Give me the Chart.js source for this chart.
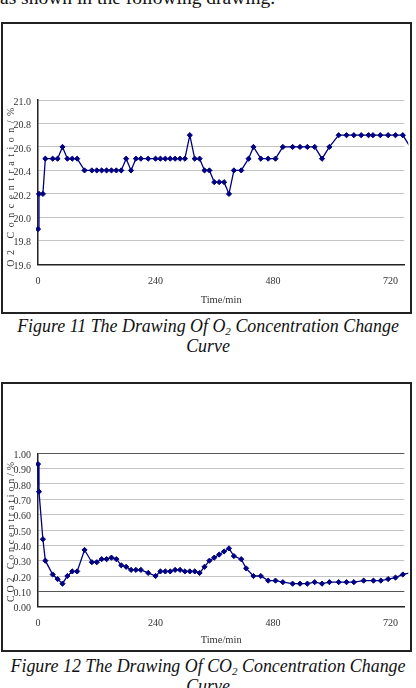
<!DOCTYPE html>
<html>
<head>
<meta charset="utf-8">
<script src="https://cdn.jsdelivr.net/npm/chart.js@4"></script>
<style>
  html, body { margin: 0; padding: 0; background: #fff; }
  body { width: 416px; height: 688px; position: relative; overflow: hidden;
         font-family: "Liberation Serif", "Times New Roman", serif; color: #111; }
  .lead { position: absolute; left: 0; top: -12px; font-size: 19.5px; line-height: 19px; white-space: nowrap; }
  .box { position: absolute; left: 1px; width: 411px; border: 2px solid #222; box-sizing: border-box; }
  .chart { position: absolute; left: 0; }
  .cap { position: absolute; left: 0; width: 416px; text-align: center; font-style: italic;
         font-size: 17.9px; line-height: 19.7px; white-space: nowrap; }
  .cap sub { font-size: 0.62em; vertical-align: -0.25em; line-height: 0; }
</style>
</head>
<body>
<div class="lead">as shown in the following drawing.</div>

<div class="box" style="top:22px;height:292px;"></div>
<canvas id="o2" class="chart" width="416" height="291" style="top:23px;"></canvas>
<div class="cap" style="top:317.3px;">Figure 11 The Drawing Of O<sub>2</sub> Concentration Change<br>Curve</div>

<div class="box" style="top:382px;height:270px;"></div>
<canvas id="co2" class="chart" width="416" height="269" style="top:383px;"></canvas>
<div class="cap" style="top:657px;">Figure 12 The Drawing Of CO<sub>2</sub> Concentration Change<br>Curve</div>

<script>
// time in minutes
const o2Times = [0, 2, 10, 15, 30, 40, 50, 60, 70, 80, 95, 110, 120, 130, 140, 150, 160, 170, 180, 190,
  200, 210, 225, 240, 250, 260, 270, 280, 290, 300, 310, 320, 330, 340, 350, 360, 370, 380, 390, 400,
  415, 430, 440, 455, 470, 485, 500, 520, 535, 550, 565, 580, 595, 614, 630, 645, 660, 675, 684, 699,
  715, 730, 745, 760];
const o2Values = [19.9, 20.2, 20.2, 20.5, 20.5, 20.5, 20.6, 20.5, 20.5, 20.5, 20.4, 20.4, 20.4, 20.4, 20.4, 20.4, 20.4, 20.4, 20.5, 20.4,
  20.5, 20.5, 20.5, 20.5, 20.5, 20.5, 20.5, 20.5, 20.5, 20.5, 20.7, 20.5, 20.5, 20.4, 20.4, 20.3, 20.3, 20.3, 20.2, 20.4,
  20.4, 20.5, 20.6, 20.5, 20.5, 20.5, 20.6, 20.6, 20.6, 20.6, 20.6, 20.5, 20.6, 20.7, 20.7, 20.7, 20.7, 20.7, 20.7, 20.7,
  20.7, 20.7, 20.7, 20.6];

const co2Times = [0, 2, 10, 15, 30, 40, 50, 60, 70, 80, 95, 110, 120, 130, 140, 150, 160, 170, 180, 190,
  200, 210, 225, 240, 250, 260, 270, 280, 290, 300, 310, 320, 330, 340, 350, 360, 370, 380, 390, 400,
  415, 425, 440, 455, 470, 485, 500, 520, 535, 550, 565, 580, 595, 614, 630, 645, 665, 685, 700, 715,
  730, 745, 760];
const co2Values = [0.93, 0.75, 0.44, 0.30, 0.21, 0.18, 0.15, 0.20, 0.23, 0.23, 0.37, 0.29, 0.29, 0.31, 0.31, 0.32, 0.31, 0.27, 0.26, 0.24,
  0.24, 0.24, 0.22, 0.20, 0.23, 0.23, 0.23, 0.24, 0.24, 0.23, 0.23, 0.23, 0.22, 0.26, 0.30, 0.32, 0.34, 0.36, 0.38, 0.33,
  0.31, 0.25, 0.20, 0.20, 0.17, 0.17, 0.16, 0.15, 0.15, 0.15, 0.16, 0.15, 0.16, 0.16, 0.16, 0.16, 0.17, 0.17, 0.17, 0.18,
  0.19, 0.21, 0.22];

const timeTicks = [0, 240, 480, 720];
const o2Axis = { min: 19.6, max: 21.0, step: 0.2, digits: 1 };
const co2Axis = { min: 0, max: 1.0, step: 0.1, digits: 2 };

const tickFont = { family: "'Liberation Serif', serif", size: 10 };
const ink = '#333';

// rotated y-axis title with wide letter spacing (like the original)
const yTitlePlugin = {
  id: 'yTitle',
  afterDraw(chart, args, opts) {
    const ctx = chart.ctx, area = chart.chartArea;
    ctx.save();
    ctx.font = opts.font;
    ctx.fillStyle = ink;
    const natural = ctx.measureText(opts.text).width;
    const n = opts.text.length;
    const gap = (opts.length - natural) / (n - 1);
    ctx.letterSpacing = gap + 'px';
    ctx.translate(opts.x, (area.top + area.bottom) / 2 + opts.shift);
    ctx.rotate(-Math.PI / 2);
    ctx.textAlign = 'left';
    ctx.textBaseline = 'middle';
    ctx.fillText(opts.text, -(natural + gap * (n - 1)) / 2, 0);
    ctx.restore();
  }
};

function makeChart(id, times, values, axis, lay) {
  return new Chart(document.getElementById(id), {
    type: 'line',
    data: {
      datasets: [{
        data: times.map((t, i) => ({ x: t, y: values[i] })),
        borderColor: '#000080',
        backgroundColor: '#000080',
        borderWidth: 1.3,
        pointStyle: 'rectRot',
        pointRadius: 2.6,
        pointBorderWidth: 1,
        tension: 0,
        clip: { left: 2, top: 4, right: 4, bottom: 2 }
      }]
    },
    options: {
      responsive: false,
      animation: false,
      devicePixelRatio: 1,
      layout: { padding: { left: 0, right: 11.7, top: lay.top, bottom: 0 } },
      plugins: {
        legend: { display: false },
        tooltip: { enabled: false },
        yTitle: { text: lay.title, font: "10px 'Liberation Serif', serif", x: 11.5, shift: lay.shift, length: lay.len }
      },
      scales: {
        x: {
          type: 'linear', min: 0, max: 748,
          afterBuildTicks: s => { s.ticks = timeTicks.map(v => ({ value: v })); },
          afterFit: s => { s.height = lay.xh; },
          grid: { display: false, drawTicks: false },
          border: { display: true, color: '#222', width: 1.5 },
          ticks: { font: tickFont, color: ink, padding: lay.xpad, maxRotation: 0, autoSkip: false },
          title: { display: true, text: 'Time/min', color: ink,
                   font: { family: "'Liberation Serif', serif", size: 10.5 },
                   padding: { top: 0, bottom: lay.tpad } }
        },
        y: {
          min: axis.min, max: axis.max,
          afterFit: s => { s.width = 38; },
          grid: { drawTicks: false, lineWidth: 1,
                  color: c => (lay.dark.includes(Math.round(c.tick.value * 100)) ? '#555' : '#c4c4c4') },
          border: { color: '#222', width: 1.5 },
          ticks: { stepSize: axis.step, padding: 7, labelOffset: 2, font: tickFont, color: ink,
                   callback: v => Number(v).toFixed(axis.digits) }
        }
      }
    },
    plugins: [yTitlePlugin]
  });
}

makeChart('o2', o2Times, o2Values, o2Axis,
  { top: 77, xh: 49.7, xpad: 11, tpad: 7, title: 'O2 Concentration/%', shift: 5, len: 159, dark: [] });
makeChart('co2', co2Times, co2Values, co2Axis,
  { top: 70.3, xh: 45.3, xpad: 10.3, tpad: 5, title: 'CO2 Concentration/%', shift: 2, len: 140, dark: [100, 10] });
</script>
</body>
</html>
